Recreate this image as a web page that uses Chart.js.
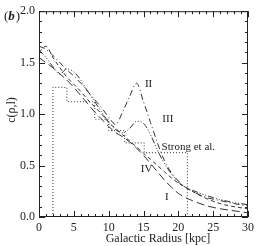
<!DOCTYPE html>
<html><head><meta charset="utf-8">
<script src="https://cdn.jsdelivr.net/npm/chart.js@4.4.1/dist/chart.umd.min.js"></script>
<style>html,body{margin:0;padding:0;background:#fff}#wrap{width:258px;height:246px}</style>
</head><body><div id="wrap"><canvas id="c" width="258" height="246"></canvas></div>
<script>
// Galactic radius [kpc] sample points
const radius = [0,1,2,3,4,5,6,7,8,9,10,11,12,13,14,15,16,17,18,19,20,21,22,24,26,28,30];
const curveI   = [1.55,1.50,1.45,1.39,1.33,1.26,1.18,1.10,1.02,0.95,0.88,0.82,0.78,0.73,0.67,0.60,0.52,0.44,0.36,0.29,0.23,0.19,0.16,0.11,0.08,0.06,0.04];
const curveII  = [1.66,1.63,1.57,1.50,1.43,1.37,1.30,1.22,1.14,1.06,0.97,0.90,1.02,1.17,1.30,1.12,0.92,0.72,0.55,0.43,0.35,0.29,0.25,0.19,0.16,0.13,0.11];
const curveIII = [1.62,1.55,1.46,1.39,1.44,1.41,1.33,1.22,1.12,1.02,0.92,0.85,0.82,0.86,0.93,0.91,0.80,0.65,0.52,0.42,0.34,0.29,0.26,0.21,0.17,0.14,0.12];
const curveIV  = [1.60,1.66,1.55,1.45,1.36,1.29,1.22,1.14,1.07,1.00,0.92,0.86,0.80,0.74,0.68,0.62,0.56,0.50,0.44,0.38,0.33,0.29,0.25,0.18,0.13,0.10,0.08];
// Strong et al. step profile
const strongR = [2,2,4,4,8,8,10,10,12.3,12.3,15.1,15.1,21.3,21.3];
const strongC = [0,1.26,1.26,1.12,1.12,0.95,0.95,0.84,0.84,0.72,0.72,0.625,0.625,0];
// tick labels
const xTicks = [0,5,10,15,20,25,30];
const yTicks = [0.0,0.5,1.0,1.5,2.0];

const pts = (xs, ys) => xs.map((x, i) => ({x: x, y: ys[i]}));
const ink = '#333';
const FONT = '"Liberation Serif", "DejaVu Serif", serif';

const curveLabels = [
  {text: 'II', x: 15.2, y: 1.29},
  {text: 'III', x: 17.7, y: 0.95},
  {text: 'IV', x: 14.6, y: 0.47},
  {text: 'I', x: 18.1, y: 0.19},
  {text: 'Strong et al.', x: 17.6, y: 0.68}
];

const decor = {
  id: 'decor',
  afterDraw(chart) {
    const ctx = chart.ctx, a = chart.chartArea;
    const xs = chart.scales.x, ys = chart.scales.y;
    ctx.save();
    ctx.strokeStyle = '#222';
    ctx.lineWidth = 1;
    ctx.strokeRect(a.left + 0.5, a.top + 0.5, a.right - a.left - 1, a.bottom - a.top - 1);
    ctx.beginPath();
    for (let v = 0; v <= 30; v++) {
      const px = Math.round(xs.getPixelForValue(v)) + 0.5;
      const len = (v % 5 === 0) ? 6 : 3;
      ctx.moveTo(px, a.bottom); ctx.lineTo(px, a.bottom - len);
      ctx.moveTo(px, a.top); ctx.lineTo(px, a.top + len);
    }
    for (let k = 0; k <= 20; k++) {
      const v = k / 10;
      const py = Math.round(ys.getPixelForValue(v)) + 0.5;
      const len = (k % 5 === 0) ? 6 : 3;
      ctx.moveTo(a.left, py); ctx.lineTo(a.left + len, py);
      ctx.moveTo(a.right, py); ctx.lineTo(a.right - len, py);
    }
    ctx.stroke();
    ctx.fillStyle = '#222';
    ctx.font = '11px ' + FONT;
    ctx.textAlign = 'left';
    ctx.textBaseline = 'middle';
    curveLabels.forEach(l => ctx.fillText(l.text, xs.getPixelForValue(l.x), ys.getPixelForValue(l.y)));
    ctx.font = '12px ' + FONT;
    ctx.textAlign = 'center';
    ctx.fillText('Galactic Radius [kpc]', 158, 239);
    ctx.save();
    ctx.translate(12, 110);
    ctx.rotate(-Math.PI / 2);
    ctx.fillText('c(\u03c1,l)', 0, 0);
    ctx.restore();
    ctx.textAlign = 'left';
    ctx.font = '13px ' + FONT;
    ctx.fillText('(', 4, 17);
    const w1 = ctx.measureText('(').width;
    ctx.font = 'italic bold 13px ' + FONT;
    ctx.fillText('b', 4 + w1, 17);
    const w2 = ctx.measureText('b').width;
    ctx.font = '13px ' + FONT;
    ctx.fillText(')', 4 + w1 + w2 + 1, 17);
    ctx.restore();
  }
};

const line = (data, dash) => ({
  data: data, borderColor: ink, borderWidth: 1, borderDash: dash,
  pointRadius: 0, fill: false, cubicInterpolationMode: 'monotone', tension: 0.4
});

new Chart(document.getElementById('c'), {
  type: 'line',
  data: {
    datasets: [
      line(pts(radius, curveI), [8, 4]),
      line(pts(radius, curveII), [6, 3, 1, 3]),
      line(pts(radius, curveIII), [6, 2, 1, 2, 1, 2, 1, 2]),
      line(pts(radius, curveIV), [4, 3]),
      Object.assign(line(pts(strongR, strongC), [1, 2]), {cubicInterpolationMode: 'default', tension: 0})
    ]
  },
  options: {
    responsive: false, animation: false, devicePixelRatio: 1,
    layout: {padding: {left: 0, right: 9, top: 9, bottom: 0}},
    plugins: {legend: {display: false}, tooltip: {enabled: false}},
    scales: {
      x: {
        type: 'linear', min: 0, max: 30,
        afterFit(s) { s.height = 29; },
        afterBuildTicks(s) { s.ticks = xTicks.map(v => ({value: v})); },
        grid: {display: false, drawTicks: false}, border: {display: false},
        ticks: {padding: 4, color: '#222', font: {family: FONT, size: 12}, maxRotation: 0, autoSkip: false}
      },
      y: {
        type: 'linear', min: 0, max: 2,
        afterFit(s) { s.width = 39; },
        afterBuildTicks(s) { s.ticks = yTicks.map(v => ({value: v})); },
        grid: {display: false, drawTicks: false}, border: {display: false},
        ticks: {padding: 4, color: '#222', font: {family: FONT, size: 12}, callback: v => Number(v).toFixed(1), autoSkip: false}
      }
    }
  },
  plugins: [decor]
});
</script></body></html>
